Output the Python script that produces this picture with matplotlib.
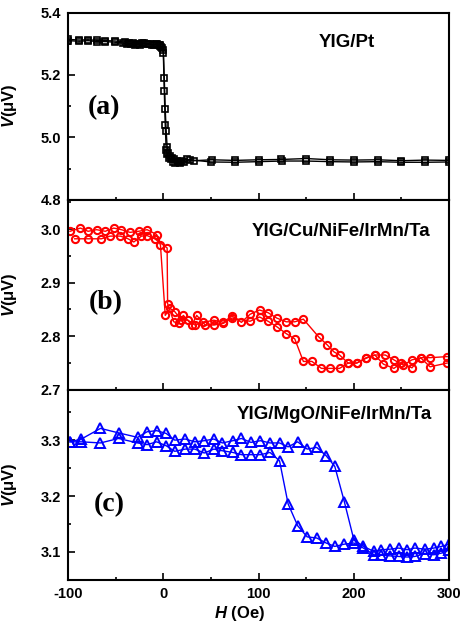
import matplotlib
matplotlib.use("Agg")
import matplotlib.pyplot as plt
from matplotlib.ticker import MultipleLocator
import numpy as np

plt.rcParams['font.family'] = ['Liberation Sans', 'DejaVu Sans']
plt.rcParams['font.weight'] = 'bold'
plt.rcParams['axes.unicode_minus'] = False
plt.rcParams['mathtext.fontset'] = 'custom'
plt.rcParams['mathtext.it'] = 'Liberation Sans:italic:bold'
plt.rcParams['mathtext.rm'] = 'Liberation Sans:bold'

# ---- panel (a): YIG/Pt ----
h_a1 = [-100, -88, -79, -70, -61, -51, -42, -38, -34, -30, -26, -22, -18, -14, -10, -7, -4, -2, 0,
        1, 2, 3, 4, 5, 7, 9, 11, 14, 17, 20, 25, 32, 51, 75, 100, 124, 150, 175, 200, 225, 250, 275, 300]
v_a1 = [5.310, 5.308, 5.310, 5.307, 5.307, 5.305, 5.302, 5.298, 5.300, 5.296, 5.300, 5.302, 5.298, 5.300,
        5.296, 5.300, 5.295, 5.290, 5.280, 5.190, 5.090, 5.020, 4.970, 4.950, 4.940, 4.935, 4.930, 4.925,
        4.920, 4.925, 4.930, 4.925, 4.928, 4.926, 4.928, 4.929, 4.932, 4.928, 4.927, 4.928, 4.925, 4.927, 4.926]
h_a2 = [-100, -88, -79, -70, -61, -51, -40, -36, -32, -28, -24, -20, -16, -12, -8, -5, -3, -1,
        0, 1, 2, 3, 4, 6, 8, 10, 12, 15, 18, 22, 28, 50, 75, 100, 125, 150, 175, 200, 225, 250, 275, 300]
v_a2 = [5.314, 5.312, 5.313, 5.311, 5.310, 5.309, 5.305, 5.301, 5.303, 5.299, 5.297, 5.303, 5.300, 5.296,
        5.299, 5.297, 5.292, 5.285, 5.270, 5.150, 5.040, 4.960, 4.945, 4.935, 4.930, 4.920, 4.918, 4.922,
        4.917, 4.922, 4.928, 4.921, 4.920, 4.922, 4.924, 4.924, 4.922, 4.921, 4.922, 4.920, 4.920, 4.921]

# ---- panel (b): YIG/Cu/NiFe/IrMn/Ta ----
h_b1 = [-98, -87, -79, -70, -61, -52, -44, -35, -26, -17, -7, -3, 2, 7, 12, 19, 26, 33, 42, 53, 63,
        72, 82, 91, 101, 110, 119, 129, 138, 147, 163, 172, 179, 185, 194, 203, 213, 222, 233, 242,
        252, 261, 271, 280, 298]
v_b1 = [2.996, 3.002, 2.996, 2.999, 2.996, 3.002, 2.999, 2.994, 2.996, 2.999, 2.990, 2.970, 2.839,
        2.852, 2.846, 2.830, 2.830, 2.821, 2.826, 2.830, 2.826, 2.838, 2.826, 2.841, 2.849, 2.844,
        2.834, 2.827, 2.827, 2.832, 2.799, 2.784, 2.771, 2.765, 2.750, 2.750, 2.759, 2.765, 2.765,
        2.756, 2.746, 2.756, 2.760, 2.760, 2.762]
h_b2 = [-93, -79, -65, -56, -45, -37, -31, -23, -17, -9, 4, 4.5, 11, 16, 21, 30, 35, 44, 53, 63, 72,
        91, 101, 110, 119, 129, 138, 147, 156, 166, 175, 185, 194, 203, 213, 222, 231, 242, 250, 261,
        270, 280, 298]
v_b2 = [2.982, 2.982, 2.982, 2.987, 2.987, 2.982, 2.976, 2.987, 2.988, 2.982, 2.965, 2.861, 2.827,
        2.824, 2.839, 2.821, 2.839, 2.821, 2.821, 2.824, 2.834, 2.828, 2.836, 2.828, 2.818, 2.805,
        2.795, 2.753, 2.753, 2.740, 2.740, 2.740, 2.750, 2.750, 2.760, 2.765, 2.748, 2.740, 2.750,
        2.741, 2.760, 2.743, 2.750]

# ---- panel (c): YIG/MgO/NiFe/IrMn/Ta ----
h_c = [-98, -86, -66, -47, -27, -17, -7, 3, 12, 23, 33, 43, 53, 62, 73, 82, 92, 102, 112, 122, 131,
       141, 151, 161, 171, 180, 190, 200, 210, 221, 229, 238, 247, 256, 264, 275, 284, 292, 300]
v_c1 = [3.297, 3.302, 3.321, 3.313, 3.305, 3.315, 3.317, 3.312, 3.300, 3.302, 3.297, 3.299, 3.302,
        3.295, 3.299, 3.303, 3.296, 3.299, 3.295, 3.295, 3.288, 3.297, 3.284, 3.287, 3.272, 3.253,
        3.190, 3.122, 3.110, 3.101, 3.104, 3.105, 3.107, 3.104, 3.107, 3.105, 3.107, 3.110, 3.114]
v_c2 = [3.297, 3.297, 3.295, 3.303, 3.295, 3.292, 3.297, 3.290, 3.280, 3.284, 3.284, 3.277, 3.284,
        3.281, 3.278, 3.274, 3.274, 3.274, 3.278, 3.263, 3.186, 3.147, 3.127, 3.125, 3.116, 3.110,
        3.114, 3.116, 3.107, 3.095, 3.095, 3.093, 3.092, 3.091, 3.092, 3.097, 3.095, 3.098, 3.104]

fig = plt.figure(figsize=(4.63, 6.29), dpi=100)
gs = fig.add_gridspec(3, 1, left=0.147, right=0.970, top=0.980, bottom=0.078,
                      hspace=0, height_ratios=[187, 190, 190])
axs = [fig.add_subplot(gs[i]) for i in range(3)]

axs[0].plot(h_a1, v_a1, color='k', lw=1, marker='s', ms=3.8, mfc='none', mew=1.2)
axs[0].plot(h_a2, v_a2, color='k', lw=1, marker='s', ms=3.8, mfc='none', mew=1.2)
axs[1].plot(h_b1, v_b1, color='#ff0000', lw=1, marker='o', ms=5.2, mfc='none', mew=1.5)
axs[1].plot(h_b2, v_b2, color='#ff0000', lw=1, marker='o', ms=5.2, mfc='none', mew=1.5)
axs[2].plot(h_c, v_c1, color='#0000ff', lw=1, marker='^', ms=6.5, mfc='none', mew=1.4)
axs[2].plot(h_c, v_c2, color='#0000ff', lw=1, marker='^', ms=6.5, mfc='none', mew=1.4)

ylims = [(4.8, 5.4), (2.7, 3.055), (3.05, 3.39)]
majors = [0.2, 0.1, 0.1]
minors = [0.1, 0.05, 0.05]
names = ['YIG/Pt', 'YIG/Cu/NiFe/IrMn/Ta', 'YIG/MgO/NiFe/IrMn/Ta']
name_pos = [(0.731, 0.84), (0.717, 0.833), (0.70, 0.868)]
tags = ['(a)', '(b)', '(c)']
tag_pos = [(0.094, 0.49), (0.10, 0.458), (0.108, 0.395)]

for i, ax in enumerate(axs):
    ax.set_xlim(-100, 300)
    ax.set_ylim(*ylims[i])
    ax.xaxis.set_major_locator(MultipleLocator(100))
    ax.xaxis.set_minor_locator(MultipleLocator(50))
    ax.yaxis.set_major_locator(MultipleLocator(majors[i]))
    ax.yaxis.set_minor_locator(MultipleLocator(minors[i]))
    ax.tick_params(which='both', direction='in', labelsize=10.5, pad=5, width=1.2)
    ax.tick_params(which='major', length=5)
    ax.tick_params(which='minor', length=2.5)
    for s in ax.spines.values():
        s.set_linewidth(1.5)
    ax.yaxis.set_major_formatter(matplotlib.ticker.FormatStrFormatter('%.1f'))
    ax.set_ylabel(r'$V$(μV)', fontsize=12, fontweight='bold')
    ax.yaxis.set_label_coords(-0.13, 0.5)
    ax.text(*name_pos[i], names[i], transform=ax.transAxes, ha='center', va='center',
            fontsize=13.5, fontweight='bold')
    ax.text(*tag_pos[i], tags[i], transform=ax.transAxes, ha='center', va='center',
            fontsize=20, fontweight='bold', family='Liberation Serif')
    if i < 2:
        ax.tick_params(labelbottom=False)

axs[2].set_xlabel(r'$H$ (Oe)', fontsize=12, fontweight='bold')
axs[2].xaxis.set_label_coords(0.45, -0.174)
axs[2].xaxis.label.set_va('center')

fig.savefig('out.png', dpi=100)
